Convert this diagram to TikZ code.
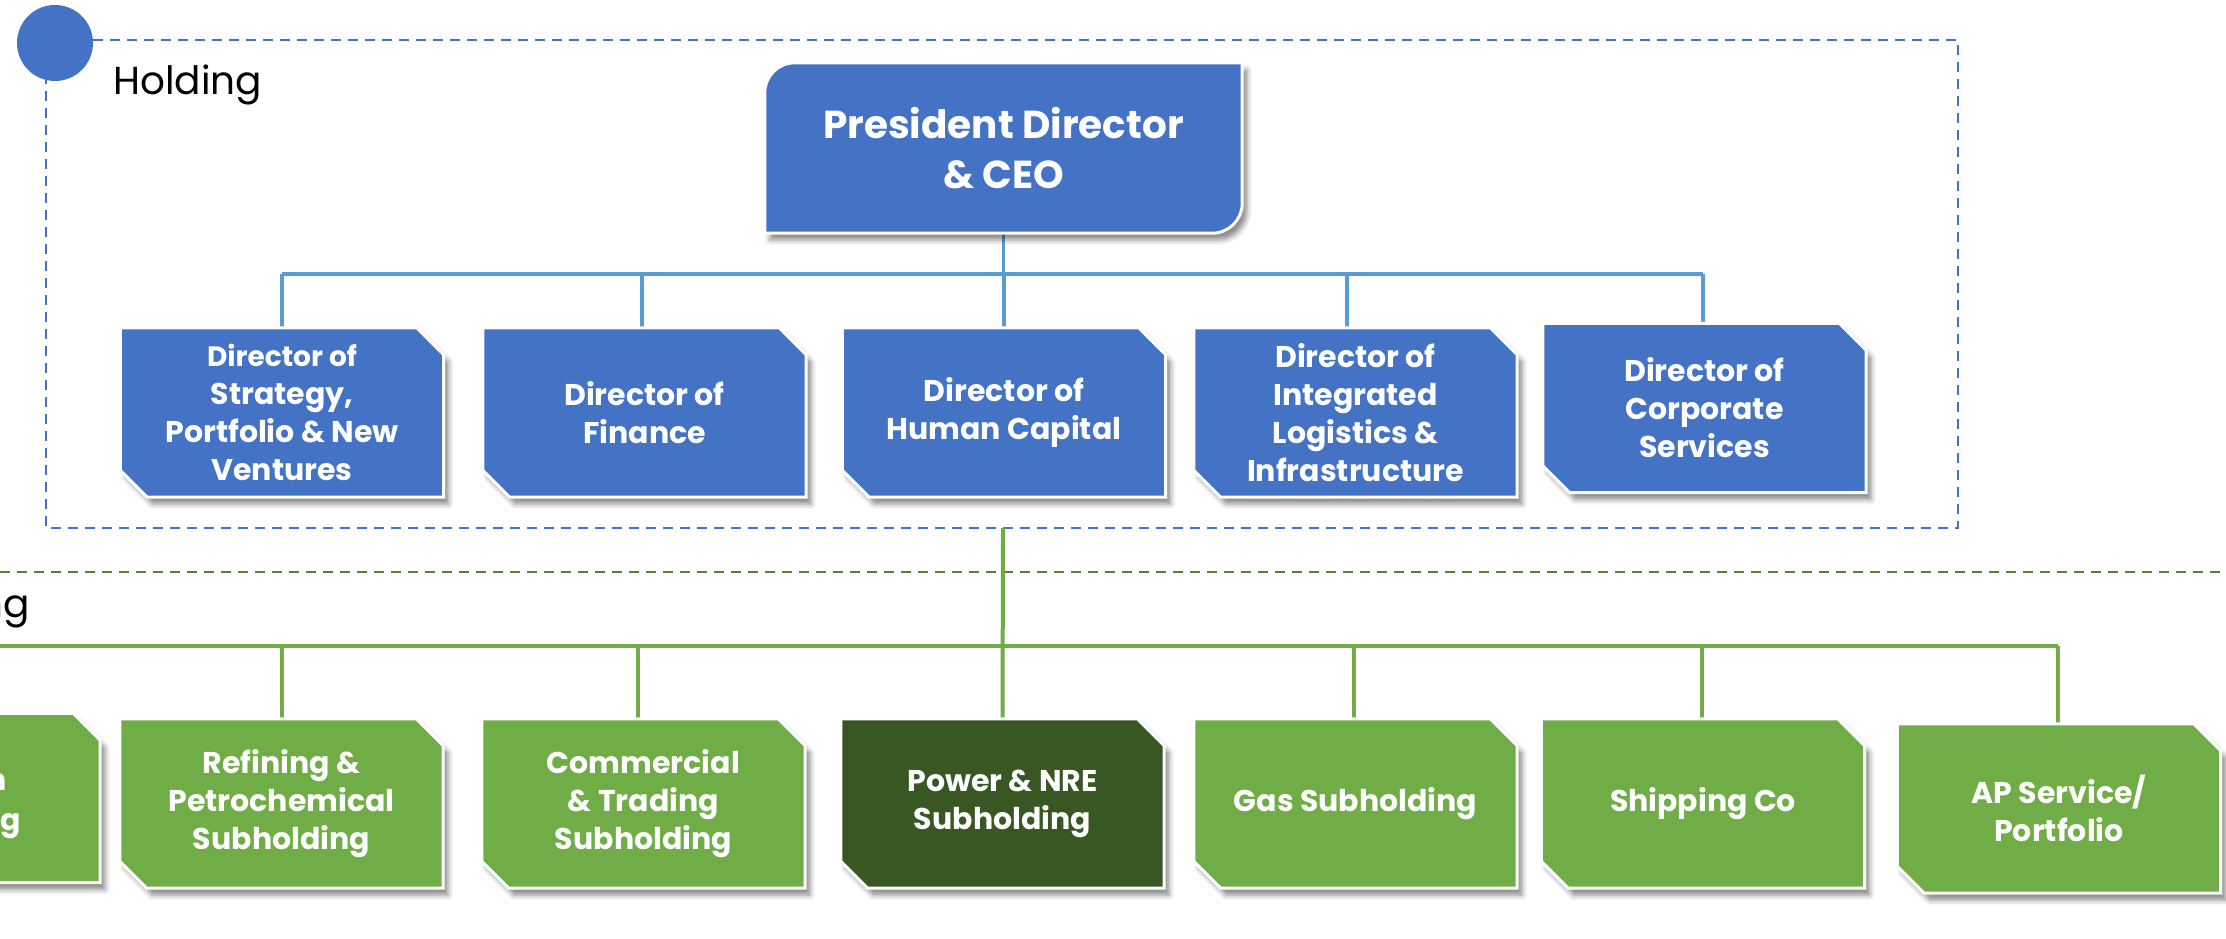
\documentclass[tikz,border=0pt]{standalone}
\usepackage{fontspec}
\setmainfont{Poppins}
\usetikzlibrary{shadows.blur,backgrounds}
\definecolor{hblue}{HTML}{4472C4}
\definecolor{lineblue}{HTML}{5B9BD5}
\definecolor{sgreen}{HTML}{70AD47}
\definecolor{dgreen}{HTML}{385723}
\definecolor{dashgreen}{HTML}{548235}
% box outline with the top-right and bottom-left corners snipped off
\newcommand\snipshape[2]{%
  \path[fill=#2, draw=white, line width=3pt, boxshadow]
    (#1.north west) -- ([xshift=-27pt]#1.north east) -- ([yshift=-27pt]#1.north east)
    -- (#1.south east) -- ([xshift=27pt]#1.south west) -- ([yshift=27pt]#1.south west) -- cycle;}
\begin{document}
\begin{tikzpicture}[x=1pt,y=-1pt,
  boxshadow/.style={blur shadow={shadow xshift=5pt,shadow yshift=-7pt,shadow blur radius=5pt,shadow opacity=45}},
  orgbox/.style={rectangle, minimum width=323pt, minimum height=169pt, inner sep=0pt,
    text=white, align=center, font=\bfseries\fontsize{30}{38}\selectfont},
  blueline/.style={draw=lineblue, line width=3.5pt},
  greenline/.style={draw=sgreen, line width=4pt},
  groupline/.style={line width=2pt, dash pattern=on 10pt off 7pt},
  grouplabel/.style={font=\fontsize{39}{46}\selectfont, inner sep=0pt},
]
\useasboundingbox (0,0) rectangle (2226,939);
\clip (0,0) rectangle (2226,939);

% ---- holding level ----
\node[minimum width=477pt, minimum height=170pt, inner sep=0pt, text=white, align=center,
      font=\bfseries\fontsize{39}{50}\selectfont] (ceo) at (1003.5,148) {President Director\\\& CEO};

\node[orgbox] (d1) at (282,412.5) {\fontsize{28}{38}\selectfont Director of\\Strategy,\\Portfolio \& New\\Ventures};
\node[orgbox] (d2) at (644.5,412.5) {Director of\\Finance};
\node[orgbox] (d3) at (1004,412.5) {Director of\\Human Capital};
\node[orgbox] (d4) at (1355.5,412.5) {Director of\\Integrated\\Logistics \&\\Infrastructure};
\node[orgbox] (d5) at (1704.5,408) {Director of\\Corporate\\Services};

% ---- subholding level ----
\node[orgbox] (g0) at (-61.5,798) {};
\node[orgbox] (g1) at (281.5,803.5) {Refining \&\\Petrochemical\\Subholding};
\node[orgbox] (g2) at (643.5,803.5) {Commercial\\\& Trading\\Subholding};
\node[orgbox] (g3) at (1002.5,803.5) {Power \& NRE\\Subholding};
\node[orgbox] (g4) at (1355.5,803.5) {Gas Subholding};
\node[orgbox] (g5) at (1703,803.5) {Shipping Co};
\node[orgbox] (g6) at (2059,808.5) {AP Service/\\Portfolio};
\node[anchor=base east, text=white, inner sep=0pt, font=\bfseries\fontsize{30}{38}\selectfont] (g0a) at (7,790) {n};
\node[anchor=base east, text=white, inner sep=0pt, font=\bfseries\fontsize{30}{38}\selectfont] (g0b) at (21,830) {g};

% ---- group frames and labels ----
\node[circle, fill=hblue, minimum size=76pt, inner sep=0pt] (dot) at (55,43) {};
\node[grouplabel, anchor=base west] (holdlbl) at (113,95) {Holding};
\node[grouplabel, anchor=base east] (sublbl) at (30,617) {ng};

% bus levels and drop positions
\coordinate (bbus) at (0,274);
\coordinate (gbus) at (0,646);
\coordinate (hbot) at (1003,528);

\begin{scope}[on background layer]
  \draw[hblue, groupline] (46,40) rectangle (1958,528);
  \draw[dashgreen, groupline] (0,572) -- (2226,572);
  % holding connectors
  \draw[blueline] (ceo.south) -- (ceo.south |- bbus);
  \foreach \n/\x in {d1/282,d2/642,d3/1004,d4/1347,d5/1703}
    \draw[blueline] (\x,0 |- \n.north) -- (\x,0 |- bbus);
  \draw[blueline] (282,0 |- bbus) -- (1703,0 |- bbus);
  % subholding connectors
  \draw[greenline] (hbot) -- (g3.north);
  \foreach \n/\x in {g0/-62,g1/282,g2/638,g4/1354,g5/1702,g6/2058}
    \draw[greenline] (\x,0 |- \n.north) -- (\x,0 |- gbus);
  \draw[greenline] (-62,0 |- gbus) -- (2058,0 |- gbus);
  % boxes
  \path[fill=hblue, draw=white, line width=3pt, boxshadow]
    (ceo.south west) -- ([yshift=-30pt]ceo.north west)
    .. controls ([yshift=-13.4pt]ceo.north west) and ([xshift=13.4pt]ceo.north west) .. ([xshift=30pt]ceo.north west)
    -- (ceo.north east) -- ([yshift=30pt]ceo.south east)
    .. controls ([yshift=13.4pt]ceo.south east) and ([xshift=-13.4pt]ceo.south east) .. ([xshift=-30pt]ceo.south east)
    -- cycle;
  \foreach \n in {d1,d2,d3,d4,d5} \snipshape{\n}{hblue};
  \foreach \n in {g0,g1,g2,g4,g5,g6} \snipshape{\n}{sgreen};
  \snipshape{g3}{dgreen};
\end{scope}
\end{tikzpicture}
\end{document}
